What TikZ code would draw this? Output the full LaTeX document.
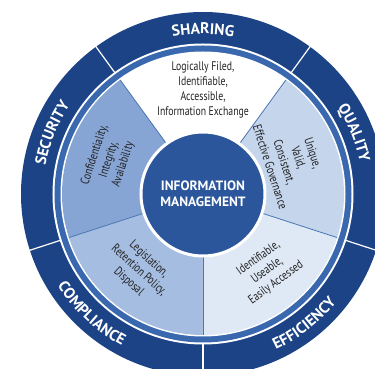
\documentclass[tikz,border=0pt]{standalone}
\usepackage{fontspec}
\setsansfont{PT Sans}
\newfontfamily\condfont[FakeStretch=0.78]{PT Sans}
\usetikzlibrary{decorations.text}

\definecolor{ringblue}{HTML}{1C4385}
\definecolor{bandblue}{HTML}{3A68AE}
\definecolor{hubblue}{HTML}{2B569C}
\definecolor{lineblue}{HTML}{4A76B4}
\definecolor{leftblue}{HTML}{87A5D4}
\definecolor{lowleftblue}{HTML}{A5BDE0}
\definecolor{rightblue}{HTML}{C4D5EC}
\definecolor{lowrightblue}{HTML}{DFE8F5}
\definecolor{textgray}{HTML}{222222}

\begin{document}
\begin{tikzpicture}[x=1pt, y=1pt,
        hubnode/.style={
            circle, fill=hubblue, draw=white, line width=3pt, minimum size=124pt,
            inner sep=0pt, text=white, align=center,
            font=\sffamily\bfseries\fontsize{13.5}{16}\selectfont
        },
        sectortext/.style={
            align=center, text=textgray, inner sep=0pt,
            font=\condfont\fontsize{12.5}{15}\selectfont
        },
        ringlabel/.style={
            decorate, decoration={text along path, text align=center,
                text={|\sffamily\bfseries\fontsize{15.5}{15}\selectfont\color{white}|#1}}
        }
    ]
    \useasboundingbox (-203,-175) rectangle (172,194);
    \clip (-203,-175) rectangle (172,194);

    % rings
    \fill[ringblue] (0,0) circle (182);
    \fill[white] (0,0) circle (150.5);
    \fill[bandblue] (0,0) circle (148.5);
    \fill[white] (0,0) circle (142.5);

    % sectors
    \foreach \a/\col in {54/white, 126/leftblue, 198/lowleftblue, 270/lowrightblue, -18/rightblue}
        \fill[\col] (0,0) -- (\a:141) arc[start angle=\a, delta angle=72, radius=141] -- cycle;
    \foreach \a in {54, 126, 198, 270, 342} {
        \draw[lineblue, line width=0.8pt] (\a:60) -- (\a:141);
        \draw[white, line width=1.2pt] (\a:150) -- (\a:183);
    }

    % nodes
    \node[hubnode] (hub) at (0,0) {INFORMATION\\MANAGEMENT};
    \node[sectortext] (sharingtxt) at (90:104) {Logically Filed,\\Identifiable,\\Accessible,\\Information Exchange};
    \node[sectortext, rotate=72] (securitytxt) at (160:100) {Confidentiality,\\Integrity,\\Availability};
    \node[sectortext, rotate=-72] (qualitytxt) at (21:95) {Unique,\\Valid,\\Consistent,\\Effective Governance};
    \node[sectortext, rotate=-42] (compliancetxt) at (230:100) {Legislation,\\Retention Policy,\\Disposal};
    \node[sectortext, rotate=36] (efficiencytxt) at (-50:100) {Identifiable,\\Useable,\\Easily Accessed};

    % ring labels
    \path[ringlabel=SHARING] (125:160) arc[start angle=125, end angle=55, radius=160];
    \path[ringlabel=SECURITY] (193:160) arc[start angle=193, end angle=123, radius=160];
    \path[ringlabel=QUALITY] (57:160) arc[start angle=57, end angle=-13, radius=160];
    \path[ringlabel=COMPLIANCE] (192:172) arc[start angle=192, end angle=262, radius=172];
    \path[ringlabel=EFFICIENCY] (-87:172) arc[start angle=-87, end angle=-17, radius=172];
\end{tikzpicture}
\end{document}
